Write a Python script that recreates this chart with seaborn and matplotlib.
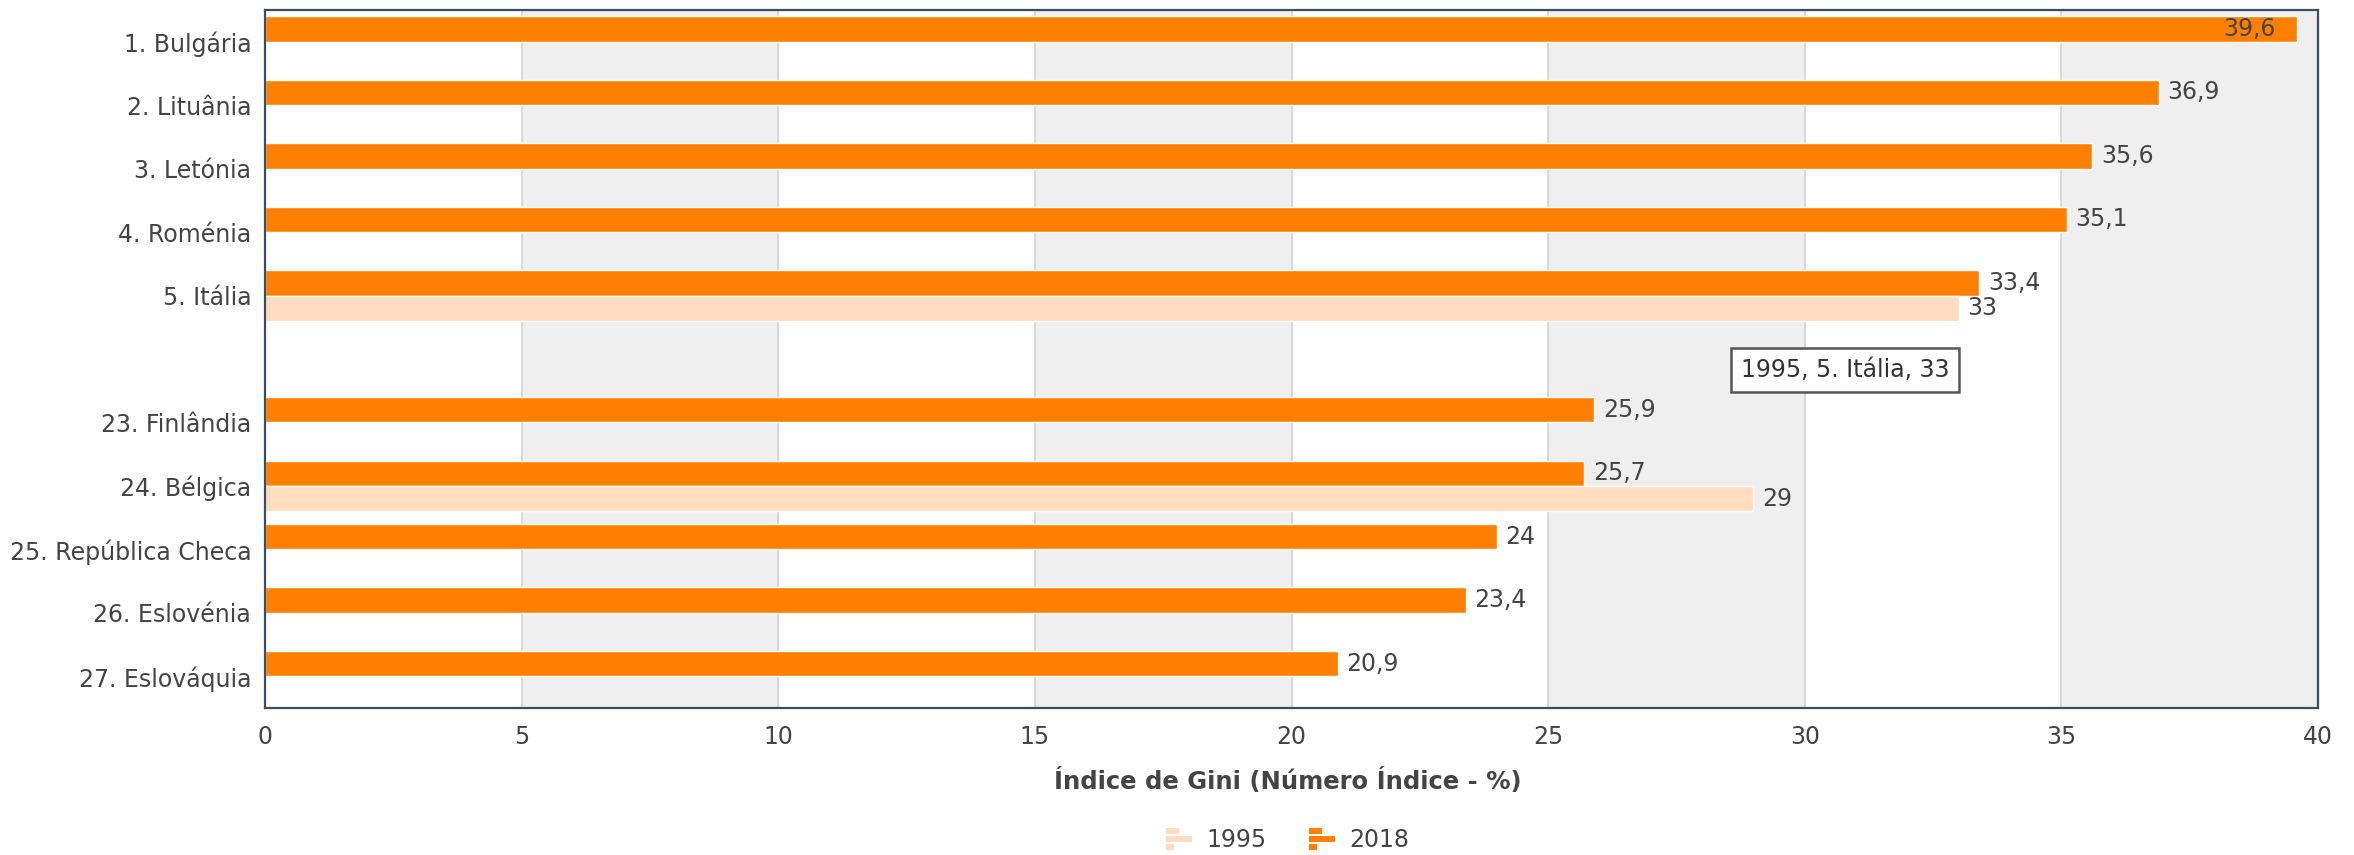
import pandas as pd
import numpy as np
import matplotlib
matplotlib.use("Agg")
import matplotlib.pyplot as plt
import seaborn as sns
from matplotlib.patches import Patch, Rectangle
from matplotlib.legend_handler import HandlerBase

# data
countries = ["1. Bulgária", "2. Lituânia", "3. Letónia", "4. Roménia", "5. Itália", "",
             "23. Finlândia", "24. Bélgica", "25. República Checa", "26. Eslovénia", "27. Eslováquia"]
gini_2018 = [39.6, 36.9, 35.6, 35.1, 33.4, np.nan, 25.9, 25.7, 24.0, 23.4, 20.9]
gini_1995 = [np.nan, np.nan, np.nan, np.nan, 33.0, np.nan, np.nan, 29.0, np.nan, np.nan, np.nan]
years = ["2018", "1995"]
x_ticks = [0, 5, 10, 15, 20, 25, 30, 35, 40]
tooltip = "1995, 5. Itália, 33"

colors = {"2018": "#FF8000", "1995": "#FFDBBF"}
text_col = "#444444"
fs = 17

df = pd.concat([
    pd.DataFrame({"pais": countries, "ano": "2018", "valor": gini_2018}),
    pd.DataFrame({"pais": countries, "ano": "1995", "valor": gini_1995}),
], ignore_index=True)

sns.set_style("white")
plt.rcParams["font.family"] = ["DejaVu Sans"]

fig = plt.figure(figsize=(23.54, 8.55), dpi=100)
ax = fig.add_axes([0.1126, 0.1719, 0.8721, 0.8164])

# alternating background bands + grid
for i in range(len(x_ticks) - 1):
    if i % 2 == 1:
        ax.axvspan(x_ticks[i], x_ticks[i + 1], color="#EFEFEF", zorder=0)
for t in x_ticks[1:-1]:
    ax.axvline(t, color="#D4D4D4", lw=1.2, zorder=0.5)

sns.barplot(data=df, y="pais", x="valor", hue="ano", order=countries, hue_order=years,
            palette=colors, width=0.8, gap=0, saturation=1, dodge=True, orient="h",
            legend=False, ax=ax, zorder=2)

ax.set_xlim(x_ticks[0], x_ticks[-1])
ax.set_xticks(x_ticks)
ax.set_xticklabels([str(t) for t in x_ticks])
ax.tick_params(axis="both", length=0, labelsize=fs, colors=text_col)
ax.tick_params(axis="x", pad=12)
ax.tick_params(axis="y", pad=10)
ax.set_ylabel("")
ax.set_xlabel("Índice de Gini (Número Índice - %)", fontsize=17.5, fontweight="bold",
              color=text_col)
ax.xaxis.set_label_coords(0.498, -0.086)

for s in ax.spines.values():
    s.set_color("#3A4E63")
    s.set_linewidth(1.6)

# value labels
for cont in ax.containers:
    for bar in cont:
        w = bar.get_width()
        if not np.isfinite(w) or w == 0:
            continue
        yc = bar.get_y() + bar.get_height() / 2
        lab = f"{w:.1f}".rstrip("0").rstrip(".").replace(".", ",")
        if w > x_ticks[-1] - 1.5:
            ax.text(w - 0.43, yc, lab, ha="right", va="center", fontsize=fs, color=text_col, zorder=3)
        else:
            ax.text(w + 0.17, yc, lab, ha="left", va="center", fontsize=fs, color=text_col, zorder=3)

# tooltip
ax.text(30.78, 5.17, tooltip, ha="center", va="center", fontsize=17, color="#333333", zorder=4,
        bbox=dict(boxstyle="square,pad=0.42", fc="white", ec="#555555", lw=1.8))


class BarIcon(HandlerBase):
    def create_artists(self, legend, orig_handle, xd, yd, width, height, fontsize, trans):
        c = orig_handle.get_facecolor()
        h = height / 3.6
        parts = [(0.0, height - h, 0.5), (0.0, height / 2 - h / 2, 1.0), (0.0, 0.0, 0.3)]
        return [Rectangle((x0, y0 - yd), width * frac, h, facecolor=c,
                          edgecolor="none", transform=trans) for x0, y0, frac in parts]


handles = [Patch(facecolor=colors["1995"], label="1995"), Patch(facecolor=colors["2018"], label="2018")]
ax.legend(handles=handles, loc="center", bbox_to_anchor=(0.498, -0.189), ncol=2, frameon=False,
          fontsize=fs, handlelength=1.1, handleheight=1.1, columnspacing=1.8, handletextpad=0.6,
          labelcolor=text_col, handler_map={Patch: BarIcon()})

fig.savefig("out.png", dpi=100)
